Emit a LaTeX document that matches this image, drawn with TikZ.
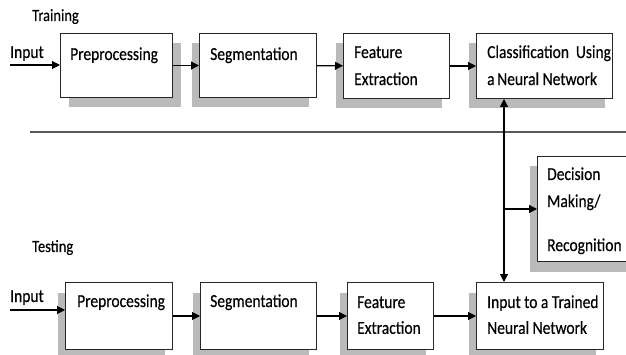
\documentclass[tikz,border=0pt]{standalone}
\usepackage{fontspec}
\usepackage{graphicx}
\setmainfont{Carlito}[FakeBold=0.4]
\usetikzlibrary{arrows.meta,shadows,calc}
\newcommand{\vst}[1]{\scalebox{1}[1.18]{#1}}
\begin{document}
\begin{tikzpicture}[x=1pt,y=-1pt,
  >={Triangle[length=8pt,width=8pt]},
  box/.style={draw=black!85,line width=1pt,fill=white,rectangle,inner sep=0pt,anchor=north west},
  shR/.style={drop shadow={shadow xshift=8pt,shadow yshift=-10pt,fill=black!27,opacity=1}},
  shL/.style={drop shadow={shadow xshift=-8pt,shadow yshift=-10pt,fill=black!27,opacity=1}},
  lbl/.style={anchor=base west,inner sep=0pt,font=\fontsize{15.5}{22.9}\selectfont},
  conn/.style={draw=black,line width=1.1pt,->}]
\useasboundingbox (0,0) rectangle (626,355);
\clip (0,0) rectangle (626,355);
% section titles
\node[lbl,font=\fontsize{14.5}{16}\selectfont] (train) at (32,21) {\vst{Training}};
\node[lbl,font=\fontsize{14.5}{16}\selectfont] (test) at (32,252) {\vst{Testing}};
% separator
\coordinate (sepL) at (30,132);
\coordinate (sepR) at (626,132);
\draw[black!65,line width=1.3pt] (sepL) -- (sepR);
% training boxes
\node[box,shR,minimum width=112pt,minimum height=64pt] (pp1) at (60,33) {};
\node[box,shL,minimum width=117pt,minimum height=64pt] (sg1) at (199,33) {};
\node[box,shL,minimum width=106pt,minimum height=65pt] (fe1) at (343,33) {};
\node[box,shL,minimum width=136pt,minimum height=65pt] (cl1) at (476,33) {};
% decision box
\node[box,shL,minimum width=110pt,minimum height=105pt] (dm) at (537,156) {};
% testing boxes
\node[box,shL,minimum width=107pt,minimum height=67pt] (pp2) at (65,282) {};
\node[box,shL,minimum width=116pt,minimum height=67pt] (sg2) at (200,282) {};
\node[box,shL,minimum width=86pt,minimum height=67pt] (fe2) at (347,282) {};
\node[box,shL,minimum width=127pt,minimum height=67pt] (it2) at (476,282) {};
% labels
\node[lbl] (pp1t) at (70,60) {\vst{Preprocessing}};
\node[lbl] (sg1t) at (210,60) {\vst{Segmentation}};
\node[lbl] (fe1t) at (354,58) {\vst{\begin{tabular}[t]{@{}l@{}}Feature\\Extraction\end{tabular}}};
\node[lbl] (cl1t) at (487,58) {\vst{\begin{tabular}[t]{@{}l@{}}Classification\ \ Using\\a\,Neural Network\end{tabular}}};
\node[lbl] (dmt) at (547,180) {\vst{\begin{tabular}[t]{@{}l@{}}Decision\\Making/\\[14.4pt]Recognition\end{tabular}}};
\node[lbl] (pp2t) at (77,307) {\vst{Preprocessing}};
\node[lbl] (sg2t) at (210,307) {\vst{Segmentation}};
\node[lbl] (fe2t) at (357,308) {\vst{\begin{tabular}[t]{@{}l@{}}Feature\\[-1pt]Extraction\end{tabular}}};
\node[lbl] (it2t) at (487,308) {\vst{\begin{tabular}[t]{@{}l@{}}Input to a Trained\\[-1pt]Neural Network\end{tabular}}};
% inputs
\node[lbl] (in1t) at (10,58) {\vst{Input}};
\node[lbl] (in2t) at (10,302) {\vst{Input}};
\coordinate (in1) at (10,65);
\coordinate (in2) at (10,310);
% training connectors
\draw[conn] (in1) -- (in1 -| pp1.west);
\draw[conn] (pp1) -- (sg1);
\draw[conn] (sg1) -- (fe1);
\draw[conn] (fe1) -- (cl1);
% testing connectors
\draw[conn] (in2) -- (in2 -| pp2.west);
\draw[conn] (pp2) -- (sg2);
\draw[conn] (sg2) -- (fe2);
\draw[conn] (fe2) -- (it2);
% vertical link
\coordinate (vx) at (504,0);
\draw[conn,<->] (cl1.south -| vx) -- (it2.north -| vx);
\draw[conn] (dm.west -| vx) -- (dm.west);
\end{tikzpicture}
\end{document}
